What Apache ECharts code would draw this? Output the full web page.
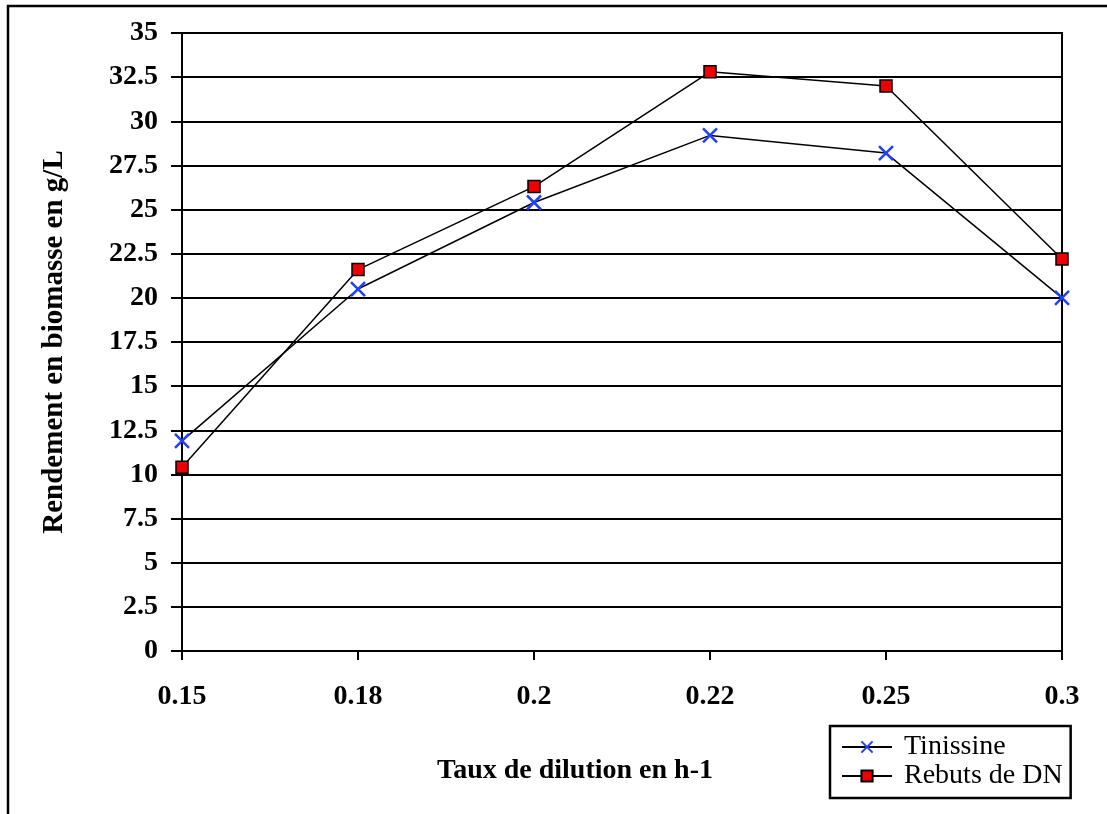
<!DOCTYPE html>
<html>
<head>
<meta charset="utf-8">
<script src="https://cdn.jsdelivr.net/npm/echarts@6/dist/echarts.min.js"></script>
<style>
  html, body { margin: 0; padding: 0; background: #fff; }
  #chart { width: 1107px; height: 814px; }
</style>
</head>
<body>
<div id="chart"></div>
<script>
// Dilution rates (h-1) on the category axis
const dilutionRates = ['0.15', '0.18', '0.2', '0.22', '0.25', '0.3'];
// Biomass yield (g/L) for each substrate
const tinissine = [11.9, 20.5, 25.4, 29.2, 28.2, 20.0];
const rebutsDN = [10.4, 21.6, 26.3, 32.8, 32.0, 22.2];
// Value axis scale
const yMin = 0, yMax = 35, yStep = 2.5;

const serif = '"Liberation Serif", "Times New Roman", serif';

const chart = echarts.init(document.getElementById('chart'));
chart.setOption({
  backgroundColor: '#fff',
  animation: false,
  grid: {
    left: 182, right: 45, top: 33, bottom: 163,
    show: true, borderColor: '#000', borderWidth: 2, backgroundColor: 'transparent'
  },
  xAxis: {
    type: 'category',
    data: dilutionRates,
    boundaryGap: false,
    axisLine: { lineStyle: { color: '#000', width: 2 } },
    axisTick: { show: true, length: 9, inside: false, lineStyle: { color: '#000', width: 2 } },
    axisLabel: { color: '#000', fontFamily: serif, fontWeight: 'bold', fontSize: 28, margin: 32 },
    splitLine: { show: false }
  },
  yAxis: {
    type: 'value',
    min: yMin, max: yMax, interval: yStep,
    axisLine: { show: true, lineStyle: { color: '#000', width: 2 } },
    axisTick: { show: true, length: 11, lineStyle: { color: '#000', width: 2 } },
    axisLabel: { color: '#000', fontFamily: serif, fontWeight: 'bold', fontSize: 28, margin: 24, padding: [12, 0, 0, 0] },
    splitLine: { show: true, lineStyle: { color: '#000', width: 2 } }
  },
  legend: {
    orient: 'vertical',
    left: 830, top: 726,
    padding: [7, 8, 8, 11],
    itemGap: 1,
    itemWidth: 50, itemHeight: 14,
    borderColor: '#000', borderWidth: 2.5,
    backgroundColor: '#fff',
    textStyle: { color: '#000', fontFamily: serif, fontSize: 28, padding: [2, 0, 0, 7] },
    data: ['Tinissine', 'Rebuts de DN']
  },
  graphic: [
    {
      type: 'rect', silent: true, z: -1,
      shape: { x: 8, y: 6, width: 1130, height: 840 },
      style: { fill: 'none', stroke: '#000', lineWidth: 2.5 }
    },
    {
      type: 'text', silent: true,
      x: 575, y: 771,
      style: {
        text: 'Taux de dilution en h-1',
        fontFamily: serif, fontWeight: 'bold', fontSize: 28,
        fill: '#000', align: 'center', verticalAlign: 'middle'
      }
    },
    {
      type: 'text', silent: true,
      x: 55, y: 342, rotation: Math.PI / 2,
      style: {
        text: 'Rendement en biomasse en g/L',
        fontFamily: serif, fontWeight: 'bold', fontSize: 29,
        fill: '#000', align: 'center', verticalAlign: 'middle'
      }
    }
  ],
  series: [
    {
      name: 'Tinissine',
      type: 'line',
      data: tinissine,
      symbol: 'path://M0,0L10,10M10,0L0,10',
      symbolSize: 14,
      lineStyle: { color: '#000', width: 1.5 },
      itemStyle: { color: 'rgba(0,0,0,0)', borderColor: '#2040ff', borderWidth: 2.5 },
      z: 3
    },
    {
      name: 'Rebuts de DN',
      type: 'line',
      data: rebutsDN,
      symbol: 'rect',
      symbolSize: 12,
      lineStyle: { color: '#000', width: 1.5 },
      itemStyle: { color: '#ee0000', borderColor: '#000', borderWidth: 1.5 },
      z: 4
    }
  ]
});
</script>
</body>
</html>
